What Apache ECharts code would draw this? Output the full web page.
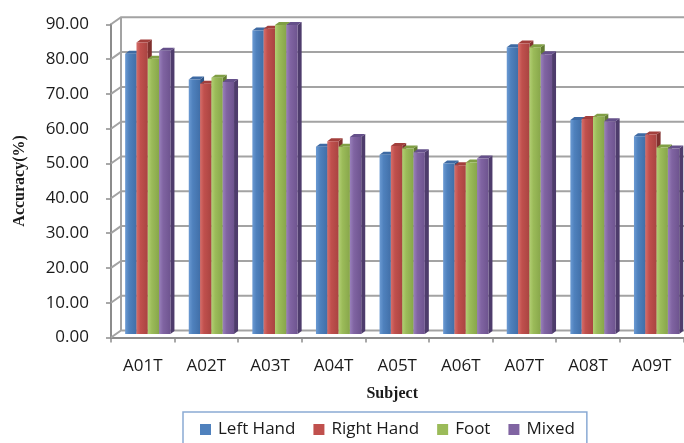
<!DOCTYPE html>
<html>
<head>
<meta charset="utf-8">
<script src="https://cdn.jsdelivr.net/npm/echarts@6/dist/echarts.min.js"></script>
<style>
  html, body { margin: 0; padding: 0; background: #ffffff; }
  #chart { width: 684px; height: 443px; }
</style>
</head>
<body>
<div id="chart"></div>
<script>
// Accuracy (%) per subject for each motor-imagery task
const categories = ['A01T', 'A02T', 'A03T', 'A04T', 'A05T', 'A06T', 'A07T', 'A08T', 'A09T'];
const leftHand  = [80.5, 73.1, 87.2, 53.8, 51.5, 49.0, 82.4, 61.5, 56.8];
const rightHand = [83.8, 71.9, 87.7, 55.4, 54.0, 48.5, 83.5, 61.8, 57.3];
const foot      = [79.1, 73.6, 88.8, 53.8, 53.3, 49.3, 82.4, 62.4, 53.6];
const mixed     = [81.4, 72.4, 88.8, 56.6, 52.2, 50.4, 80.4, 61.1, 53.3];
const seriesNames = ['Left Hand', 'Right Hand', 'Foot', 'Mixed'];
const yTicks = [0, 10, 20, 30, 40, 50, 60, 70, 80, 90];

// Pseudo-3D geometry (pixels): offset of the back wall from the front axes,
// and the depth of each column.
const WALL_DX = 10, WALL_DY = -7;
const BAR_DX = 4, BAR_DY = -3;
const BAR_FRAC = 0.178;   // column width as a fraction of one category band

const palettes = [
  { light: '#6b9ad3', base: '#4f81bd', dark: '#416fa8', top: '#3e6aa3', side: '#2f5585' },
  { light: '#d66e6a', base: '#c0504d', dark: '#a94441', top: '#a33f3c', side: '#80302e' },
  { light: '#b2cf73', base: '#9bbb59', dark: '#87a64a', top: '#809f44', side: '#627c32' },
  { light: '#9980bb', base: '#8064a2', dark: '#6e548f', top: '#65508a', side: '#4e3c6c' }
];
const seriesValues = [leftHand, rightHand, foot, mixed];

const chart = echarts.init(document.getElementById('chart'), null, { renderer: 'canvas' });

// Back-wall and side-wall gridlines, one polyline per tick value
function wallLine(params, api) {
  const cs = params.coordSys;
  const y = api.coord([0, api.value(1)])[1];
  return {
    type: 'polyline',
    shape: { points: [[cs.x, y], [cs.x + WALL_DX, y + WALL_DY], [cs.x + cs.width + WALL_DX + 20, y + WALL_DY]] },
    style: { stroke: '#a3a3a3', lineWidth: 2, fill: null }
  };
}

// Left edge of the back wall
function wallEdge(params, api) {
  const cs = params.coordSys;
  const y0 = api.coord([0, api.value(1)])[1];
  const y1 = api.coord([0, api.value(2)])[1];
  return {
    type: 'line',
    shape: { x1: cs.x + WALL_DX, y1: y0 + WALL_DY, x2: cs.x + WALL_DX, y2: y1 + WALL_DY },
    style: { stroke: '#a3a3a3', lineWidth: 2 }
  };
}

// Shaded 3D column: side face, top face, then the front face
function columnRenderer(k) {
  const pal = palettes[k];
  return function (params, api) {
    const i = api.value(0);
    const v = api.value(1);
    const top = api.coord([i, v]);
    const base = api.coord([i, 0]);
    const band = api.size([1, 0])[0];
    const w = band * BAR_FRAC;
    const x = top[0] + WALL_DX / 2 - 2 * w + k * w;
    const yt = top[1] + WALL_DY / 2;
    const yb = base[1] + WALL_DY / 2;
    return {
      type: 'group',
      children: [
        {
          type: 'polygon',
          shape: { points: [[x + w, yt], [x + w + BAR_DX, yt + BAR_DY], [x + w + BAR_DX, yb + BAR_DY], [x + w, yb]] },
          style: { fill: pal.side }
        },
        {
          type: 'polygon',
          shape: { points: [[x, yt], [x + w, yt], [x + w + BAR_DX, yt + BAR_DY], [x + BAR_DX, yt + BAR_DY]] },
          style: { fill: pal.top }
        },
        {
          type: 'rect',
          shape: { x: x, y: yt, width: w, height: yb - yt },
          style: {
            fill: new echarts.graphic.LinearGradient(0, 0, 1, 0, [
              { offset: 0, color: pal.light },
              { offset: 0.35, color: pal.base },
              { offset: 1, color: pal.dark }
            ])
          }
        }
      ]
    };
  };
}

const series = [
  {
    type: 'custom',
    name: 'wall-grid',
    silent: true,
    z: 1,
    renderItem: wallLine,
    data: yTicks.map(v => [0, v])
  },
  {
    type: 'custom',
    name: 'wall-edge',
    silent: true,
    z: 1,
    renderItem: wallEdge,
    data: [[0, yTicks[0], yTicks[yTicks.length - 1]]]
  }
];
seriesValues.forEach((vals, k) => {
  series.push({
    type: 'custom',
    name: seriesNames[k],
    z: 3,
    itemStyle: { color: palettes[k].base },
    renderItem: columnRenderer(k),
    data: vals.map((v, i) => [i, v])
  });
});

const labelFont = { fontFamily: '"Open Sans", sans-serif', fontSize: 17, color: '#1a1a1a' };
const nameFont = { fontFamily: '"Liberation Serif", serif', fontSize: 16, fontWeight: 'bold', color: '#1a1a1a' };

chart.setOption({
  animation: false,
  backgroundColor: '#ffffff',
  grid: { left: 111, top: 24.3, width: 572.4, height: 313.2, containLabel: false },
  xAxis: {
    type: 'category',
    data: categories,
    boundaryGap: true,
    name: 'Subject',
    nameLocation: 'middle',
    nameGap: 48,
    nameTextStyle: Object.assign({ padding: [0, 10, 0, 0] }, nameFont),
    axisLine: { show: true, lineStyle: { color: '#8c8c8c', width: 2 } },
    axisTick: { show: true, length: 5, lineStyle: { color: '#8c8c8c', width: 1.5 } },
    axisLabel: Object.assign({ margin: 20 }, labelFont),
    splitLine: { show: false }
  },
  yAxis: {
    type: 'value',
    min: 0,
    max: 90,
    interval: 10,
    name: 'Accuracy(%)',
    nameLocation: 'middle',
    nameGap: 83,
    nameRotate: 90,
    nameTextStyle: nameFont,
    axisLine: { show: true, lineStyle: { color: '#8c8c8c', width: 2 } },
    axisTick: { show: true, length: 5, lineStyle: { color: '#8c8c8c', width: 1.5 } },
    axisLabel: Object.assign({ margin: 22, formatter: v => v.toFixed(2) }, labelFont),
    splitLine: { show: false }
  },
  legend: {
    data: seriesNames,
    left: 183,
    top: 412,
    orient: 'horizontal',
    icon: 'rect',
    itemWidth: 11,
    itemHeight: 11,
    itemGap: 18,
    padding: [9, 12, 12, 17],
    borderColor: '#8aaad4',
    borderWidth: 1.5,
    textStyle: { fontFamily: '"Open Sans", sans-serif', fontSize: 17, color: '#1a1a1a', padding: [0, 0, 0, 2] }
  },
  series: series
});
</script>
</body>
</html>
